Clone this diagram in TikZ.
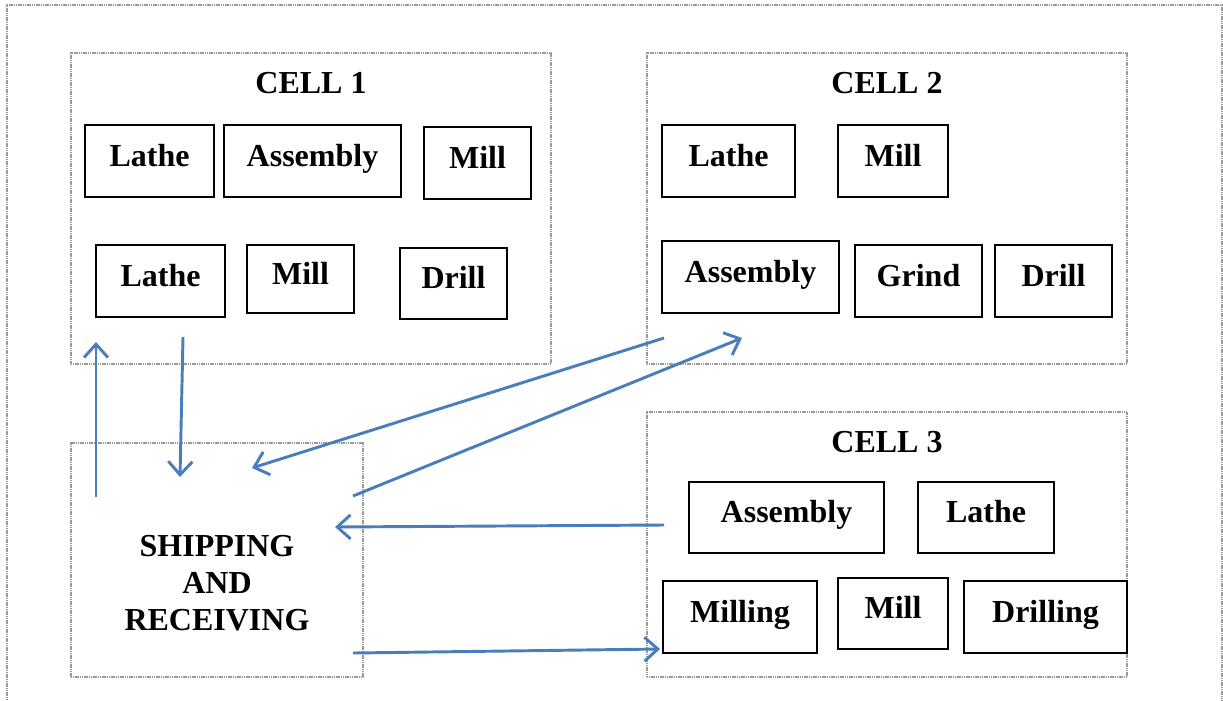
\documentclass[tikz,border=0pt]{standalone}
\usepackage{fontspec}
\setmainfont{Liberation Serif}
\usetikzlibrary{fit,arrows.meta}
\definecolor{arrowblue}{HTML}{4A7EBB}
\definecolor{dotgray}{HTML}{9A9A9A}
\tikzset{
  cell/.style={draw=dotgray, line width=0.9pt, dash pattern=on 0.9pt off 0.45pt, inner sep=0pt},
  box/.style={draw=black, line width=1.5pt, inner sep=0pt},
  boxtext/.style={inner sep=0pt, text height=16pt, text depth=8pt,
    font=\bfseries\fontsize{24}{28}\selectfont},
  title/.style={font=\bfseries\fontsize{24}{28}\selectfont},
  flow/.style={draw=arrowblue, line width=2.2pt, -{Straight Barb[length=10pt,width=18pt]}}
}
\begin{document}
\begin{tikzpicture}[x=0.75pt,y=-0.75pt]
\useasboundingbox (0,0) rectangle (1223,700);
% outer frame
\draw[cell] (7,700) -- (7,5) -- (1222,5) -- (1222,700);
% cells
\node[cell, fit={(71,53)(551,364)}] (cell1) {};
\node[cell, fit={(647,53)(1127,364)}] (cell2) {};
\node[cell, fit={(647,412)(1127,677)}] (cell3) {};
\node[cell, fit={(71,443)(363,677)}] (ship) {};
% titles
\node[title] (t1) at (311,83) {CELL 1};
\node[title] (t2) at (887,83) {CELL 2};
\node[title] (t3) at (887,442) {CELL 3};
\node[title, align=center] (shiptext) at (217,583) {SHIPPING\\AND\\RECEIVING};
% cell 1 boxes
\node[box, fit={(85,125)(214,197)}, label={[boxtext]center:Lathe}] (c1a) {};
\node[box, fit={(224,125)(401,197)}, label={[boxtext]center:Assembly}] (c1b) {};
\node[box, fit={(424,127)(531,199)}, label={[boxtext]center:Mill}] (c1c) {};
\node[box, fit={(96,245)(225,317)}, label={[boxtext]center:Lathe}] (c1d) {};
\node[box, fit={(247,245)(354,313)}, label={[boxtext]center:Mill}] (c1e) {};
\node[box, fit={(400,248)(507,319)}, label={[boxtext]center:Drill}] (c1f) {};
% cell 2 boxes
\node[box, fit={(662,125)(795,197)}, label={[boxtext]center:Lathe}] (c2a) {};
\node[box, fit={(838,125)(948,197)}, label={[boxtext]center:Mill}] (c2b) {};
\node[box, fit={(662,241)(839,313)}, label={[boxtext]center:Assembly}] (c2c) {};
\node[box, fit={(855,245)(982,317)}, label={[boxtext]center:Grind}] (c2d) {};
\node[box, fit={(995,245)(1112,317)}, label={[boxtext]center:Drill}] (c2e) {};
% cell 3 boxes
\node[box, fit={(689,482)(884,553)}, label={[boxtext]center:Assembly}] (c3a) {};
\node[box, fit={(918,482)(1054,553)}, label={[boxtext]center:Lathe}] (c3b) {};
\node[box, fit={(663,581)(817,653)}, label={[boxtext]center:Milling}] (c3c) {};
\node[box, fit={(838,578)(948,649)}, label={[boxtext]center:Mill}] (c3d) {};
\node[box, fit={(964,581)(1127,653)}, label={[boxtext]center:Drilling}] (c3e) {};
% arrow end points
\coordinate (s1) at (96,497);   \coordinate (e1) at (96,342);
\coordinate (s2) at (183,337);  \coordinate (e2) at (180,477);
\coordinate (s3) at (664,338);  \coordinate (e3) at (252,468);
\coordinate (s4) at (353,496);  \coordinate (e4) at (742,338);
\coordinate (s5) at (664,525);  \coordinate (e5) at (335,527);
\coordinate (s6) at (353,653);  \coordinate (e6) at (660,649);
\draw[flow] (s1) -- (e1);
\draw[flow] (s2) -- (e2);
\draw[flow] (s3) -- (e3);
\draw[flow] (s4) -- (e4);
\draw[flow] (s5) -- (e5);
\draw[flow] (s6) -- (e6);
\end{tikzpicture}
\end{document}
